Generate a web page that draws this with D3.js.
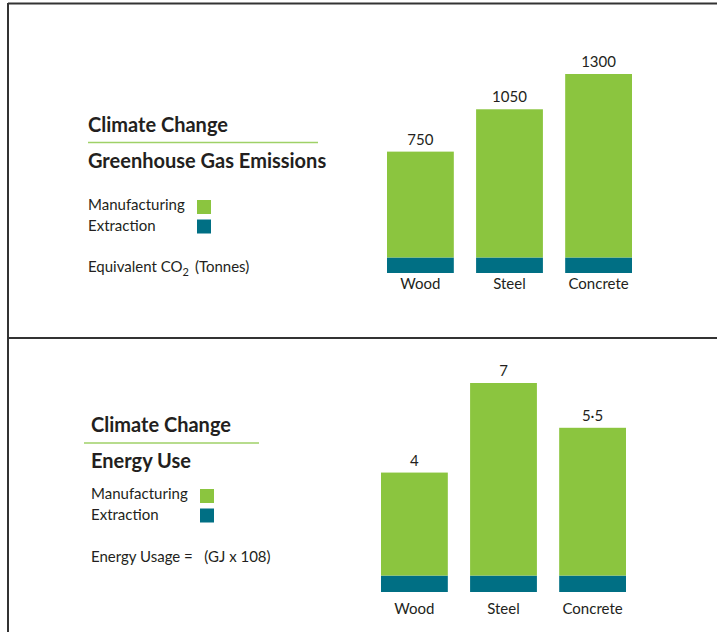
<!DOCTYPE html>
<html>
<head>
<meta charset="utf-8">
<script src="https://cdn.jsdelivr.net/npm/d3@7"></script>
<style>
body { margin: 0; background: #fff; }
text { font-family: Lato, "Open Sans", sans-serif; fill: #231f20; }
.title { font-weight: bold; font-size: 20px; }
.lbl { font-size: 15px; }
.val { font-size: 15px; }
</style>
</head>
<body>
<div id="chart"></div>
<script>
// data
var categories = ["Wood", "Steel", "Concrete"];

var ghgManufacturing = [750, 1050, 1300];
var ghgExtraction = [110, 110, 110];
var ghgLabels = ["750", "1050", "1300"];

var energyManufacturing = [3.45, 6.45, 4.95];
var energyExtraction = [0.55, 0.55, 0.55];
var energyLabels = ["4", "7", "5·5"];

var legendNames = ["Manufacturing", "Extraction"];
var colors = { manufacturing: "#8bc53f", extraction: "#006f84" };

var width = 717, height = 632;

var svg = d3.select("#chart").append("svg")
  .attr("width", width)
  .attr("height", height);

// frame lines
svg.append("line").attr("x1", 8).attr("x2", width).attr("y1", 3.5).attr("y2", 3.5)
  .attr("stroke", "#333").attr("stroke-width", 2);
svg.append("line").attr("x1", 8).attr("x2", 8).attr("y1", 3).attr("y2", height)
  .attr("stroke", "#333").attr("stroke-width", 2);
svg.append("line").attr("x1", 8).attr("x2", width).attr("y1", 338).attr("y2", 338)
  .attr("stroke", "#333").attr("stroke-width", 2);

function drawPanel(p) {
  var g = svg.append("g");

  // titles + rule
  g.append("text").attr("class", "title").attr("x", p.tx).attr("y", p.titleY).text("Climate Change");
  g.append("line").attr("x1", p.ruleX1).attr("x2", p.ruleX2).attr("y1", p.ruleY).attr("y2", p.ruleY)
    .attr("stroke", "#9fd167").attr("stroke-width", 1.5);
  g.append("text").attr("class", "title").attr("x", p.tx).attr("y", p.subY).text(p.subtitle);

  // legend
  var keys = ["manufacturing", "extraction"];
  keys.forEach(function(k, i) {
    g.append("text").attr("class", "lbl").attr("x", p.tx).attr("y", p.legY + i * 20.5).text(legendNames[i]);
    g.append("rect").attr("x", p.swX).attr("y", p.legY - 10 + i * 19.5)
      .attr("width", 14).attr("height", 14).attr("fill", colors[k]);
  });

  // unit note
  var note = g.append("text").attr("class", "lbl").attr("x", p.tx).attr("y", p.noteY);
  p.note(note);

  // bars
  var data = categories.map(function(c, i) {
    return { cat: c, extraction: p.extraction[i], manufacturing: p.manufacturing[i], label: p.labels[i] };
  });

  var x = d3.scaleBand()
    .domain(categories)
    .range([p.x0, p.x1])
    .paddingInner(0.25)
    .paddingOuter(0);

  var y = d3.scaleLinear()
    .domain([0, d3.max(data, function(d) { return d.extraction + d.manufacturing; })])
    .range([p.base, p.top]);

  var series = d3.stack().keys(["extraction", "manufacturing"])(data);

  g.selectAll("g.layer")
    .data(series)
    .enter().append("g")
      .attr("class", "layer")
      .attr("fill", function(s) { return colors[s.key]; })
    .selectAll("rect")
    .data(function(s) { return s; })
    .enter().append("rect")
      .attr("x", function(d) { return x(d.data.cat); })
      .attr("y", function(d) { return y(d[1]); })
      .attr("width", x.bandwidth())
      .attr("height", function(d) { return y(d[0]) - y(d[1]); });

  // value labels
  g.selectAll("text.val")
    .data(data)
    .enter().append("text")
      .attr("class", "val")
      .attr("text-anchor", "middle")
      .attr("x", function(d) { return x(d.cat) + x.bandwidth() / 2; })
      .attr("y", function(d) { return y(d.extraction + d.manufacturing) - 7; })
      .text(function(d) { return d.label; });

  // category axis (no line/ticks)
  var axis = g.append("g")
    .attr("transform", "translate(0," + p.base + ")")
    .call(d3.axisBottom(x).tickSize(0).tickPadding(p.catPad));
  axis.select(".domain").remove();
  axis.selectAll("text").attr("class", "lbl").style("font-family", null).attr("font-size", null).attr("fill", null);
  axis.attr("font-family", null).attr("font-size", null);
}

drawPanel({
  subtitle: "Greenhouse Gas Emissions",
  manufacturing: ghgManufacturing, extraction: ghgExtraction, labels: ghgLabels,
  tx: 88, titleY: 132, ruleX1: 88, ruleX2: 318, ruleY: 142.5, subY: 168,
  legY: 210, swX: 197, noteY: 272,
  note: function(t) {
    t.append("tspan").text("Equivalent CO");
    t.append("tspan").attr("dy", 4).attr("font-size", 11).text("2");
    t.append("tspan").attr("dy", -4).attr("dx", 6).text("(Tonnes)");
  },
  x0: 387, x1: 632, base: 273, top: 74, catPad: 5
});

drawPanel({
  subtitle: "Energy Use",
  manufacturing: energyManufacturing, extraction: energyExtraction, labels: energyLabels,
  tx: 91, titleY: 432, ruleX1: 84, ruleX2: 259, ruleY: 443, subY: 468,
  legY: 499, swX: 200, noteY: 562,
  note: function(t) {
    t.attr("xml:space", "preserve").text("Energy Usage =   (GJ x 108)");
  },
  x0: 381, x1: 626, base: 592, top: 383, catPad: 11
});
</script>
</body>
</html>
